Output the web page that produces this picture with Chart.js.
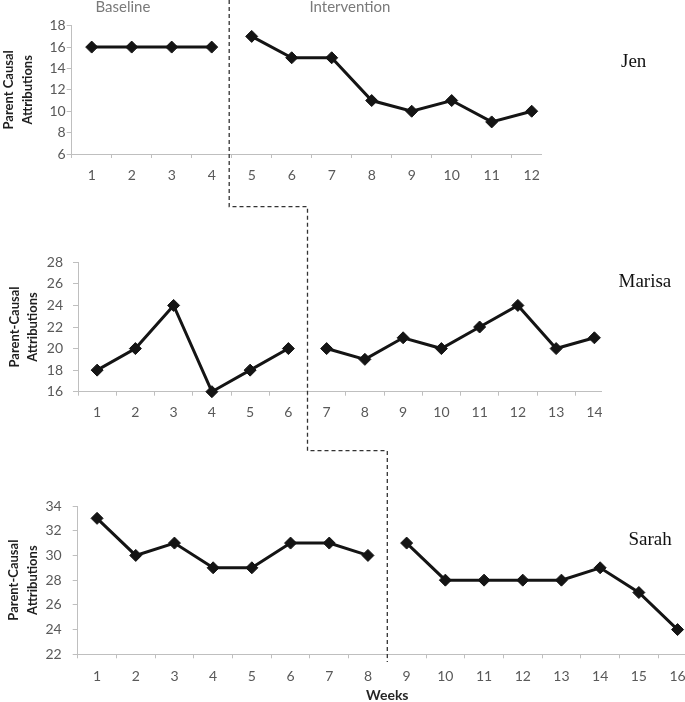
<!DOCTYPE html>
<html><head><meta charset="utf-8">
<script src="https://cdn.jsdelivr.net/npm/chart.js@4"></script>
<style>
html,body{margin:0;padding:0;background:#fff;overflow:hidden;width:685px;height:702px;position:relative;}
.panel{position:absolute;left:0;overflow:hidden;}
.name{position:absolute;font-family:"Liberation Serif","Times New Roman",serif;font-size:19px;color:#111;line-height:1;white-space:nowrap;}
.phase{position:absolute;font-family:Lato,sans-serif;font-size:15px;color:#7a7a7a;line-height:1;white-space:nowrap;}
#overlay{position:absolute;left:0;top:0;pointer-events:none;}
</style></head><body>
<div class="panel" id="p1"><canvas id="c1"></canvas></div>
<div class="panel" id="p2"><canvas id="c2"></canvas></div>
<div class="panel" id="p3"><canvas id="c3"></canvas></div>
<canvas id="overlay" width="685" height="702"></canvas>
<div class="phase" style="left:95.5px;top:-1.3px;">Baseline</div>
<div class="phase" style="left:309.5px;top:-1.3px;">Intervention</div>
<div class="name" style="left:621px;top:50.8px;">Jen</div>
<div class="name" style="left:618.5px;top:270.8px;">Marisa</div>
<div class="name" style="left:628.5px;top:529.1px;">Sarah</div>
<script>
// ---- data ----
const jenWeeks = ['1','2','3','4','5','6','7','8','9','10','11','12'];
const jenBaseline = [16, 16, 16, 16];
const jenIntervention = [17, 15, 15, 11, 10, 11, 9, 10];
const jenTicks = [6, 8, 10, 12, 14, 16, 18];

const marisaWeeks = ['1','2','3','4','5','6','7','8','9','10','11','12','13','14'];
const marisaBaseline = [18, 20, 24, 16, 18, 20];
const marisaIntervention = [20, 19, 21, 20, 22, 24, 20, 21];
const marisaTicks = [16, 18, 20, 22, 24, 26, 28];

const sarahWeeks = ['1','2','3','4','5','6','7','8','9','10','11','12','13','14','15','16'];
const sarahBaseline = [33, 30, 31, 29, 29, 31, 31, 30];
const sarahIntervention = [31, 28, 28, 28, 28, 29, 27, 24];
const sarahTicks = [22, 24, 26, 28, 30, 32, 34];

const yTitleJen = ['Parent Causal', 'Attributions'];
const yTitleOther = ['Parent-Causal', 'Attributions'];
const xTitle = 'Weeks';

Chart.defaults.font.family = 'Lato, "Open Sans", sans-serif';

function makePanel(opt) {
  const div = document.getElementById(opt.div);
  const canvas = document.getElementById(opt.canvas);
  div.style.top = opt.divTop + 'px';
  div.style.width = opt.cropW + 'px';
  div.style.height = opt.canvasH + 'px';
  canvas.width = opt.canvasW; canvas.height = opt.canvasH;
  canvas.style.width = opt.canvasW + 'px'; canvas.style.height = opt.canvasH + 'px';
  const padTop = opt.area.top - opt.divTop;
  const padRight = opt.canvasW - opt.area.right;
  const yW = opt.area.left;
  const xH = opt.canvasH - (opt.area.bottom - opt.divTop);
  const nb = opt.baseline.length;
  const base = opt.labels.map((_, i) => i < nb ? opt.baseline[i] : null);
  const inter = opt.labels.map((_, i) => i >= nb ? opt.intervention[i - nb] : null);
  const ds = (d) => ({
    data: d, borderColor: '#141414', backgroundColor: '#141414', borderWidth: 3,
    pointStyle: 'rectRot', pointRadius: 6, pointHoverRadius: 6, pointBorderWidth: 1,
    pointBackgroundColor: '#141414', pointBorderColor: '#141414',
    spanGaps: false, tension: 0, clip: false
  });
  const tickVals = opt.ticks;
  return new Chart(canvas, {
    type: 'line',
    data: { labels: opt.labels, datasets: [ds(base), ds(inter)] },
    options: {
      responsive: false, animation: false, maintainAspectRatio: false,
      layout: { padding: { top: padTop, left: 0, right: padRight, bottom: 0 } },
      plugins: { legend: { display: false }, tooltip: { enabled: false } },
      events: [],
      scales: {
        x: {
          type: 'category', offset: true,
          grid: { offset: true, drawOnChartArea: false, drawTicks: true, tickLength: 4, color: '#bfbfbf', lineWidth: 1 },
          border: { display: true, color: '#bfbfbf', width: 1 },
          ticks: { color: '#595959', font: { size: 14 }, padding: opt.xPad, maxRotation: 0, autoSkip: false },
          title: opt.xTitle ? { display: true, text: opt.xTitle, color: '#262626', font: { size: 14, weight: 'bold' }, padding: { top: 0, bottom: opt.xTitlePad } } : { display: false },
          afterFit: (s) => { s.height = xH; }
        },
        y: {
          min: tickVals[0], max: tickVals[tickVals.length - 1],
          afterBuildTicks: (s) => { s.ticks = tickVals.map(v => ({ value: v })); },
          grid: { drawOnChartArea: false, drawTicks: true, tickLength: 5, color: '#bfbfbf', lineWidth: 1 },
          border: { display: true, color: '#bfbfbf', width: 1 },
          ticks: { color: '#595959', font: { size: 14 }, padding: opt.yPad },
          title: { display: true, text: opt.yTitle, color: '#1e1e1e', font: { size: 13, weight: 'bold', lineHeight: opt.titleLH }, padding: { top: opt.titlePad, bottom: 0 } },
          afterFit: (s) => { s.width = yW; }
        }
      }
    }
  });
}

const jen = makePanel({
  div: 'p1', canvas: 'c1', divTop: 0, canvasW: 700, canvasH: 200, cropW: 542,
  area: { left: 71.7, right: 551.7, top: 25.7, bottom: 154 },
  labels: jenWeeks, baseline: jenBaseline, intervention: jenIntervention, ticks: jenTicks,
  xPad: 9.3, yPad: 1, yTitle: yTitleJen, titleLH: 1.42, titlePad: 0
});
const marisa = makePanel({
  div: 'p2', canvas: 'c2', divTop: 215, canvasW: 700, canvasH: 210, cropW: 602,
  area: { left: 78, right: 613.5, top: 262.3, bottom: 391.7 },
  labels: marisaWeeks, baseline: marisaBaseline, intervention: marisaIntervention, ticks: marisaTicks,
  xPad: 8.3, yPad: 10, yTitle: yTitleOther, titleLH: 1.4, titlePad: 6
});
const sarah = makePanel({
  div: 'p3', canvas: 'c3', divTop: 468, canvasW: 720, canvasH: 240, cropW: 685,
  area: { left: 77.7, right: 696.9, top: 506, bottom: 654.3 },
  labels: sarahWeeks, baseline: sarahBaseline, intervention: sarahIntervention, ticks: sarahTicks,
  xPad: 9.3, yPad: 11, yTitle: yTitleOther, titleLH: 1.5, titlePad: 4,
  xTitle: xTitle, xTitlePad: 4.6
});

// phase-change line through the boundaries between baseline and intervention
function boundary(chart, n) {
  const s = chart.scales.x;
  return (s.getPixelForValue(n - 1) + s.getPixelForValue(n)) / 2;
}
const ov = document.getElementById('overlay');
const ctx = ov.getContext('2d');
const x1 = boundary(jen, jenBaseline.length) - 2.5;
const x2 = boundary(marisa, marisaBaseline.length);
const x3 = boundary(sarah, sarahBaseline.length);
ctx.strokeStyle = '#333';
ctx.lineWidth = 1.3;
ctx.setLineDash([4, 3]);
ctx.beginPath();
ctx.moveTo(x1, 0);
ctx.lineTo(x1, 206.7);
ctx.lineTo(x2, 206.7);
ctx.lineTo(x2, 450.7);
ctx.lineTo(x3, 450.7);
ctx.lineTo(x3, 662);
ctx.stroke();
</script>
</body></html>
